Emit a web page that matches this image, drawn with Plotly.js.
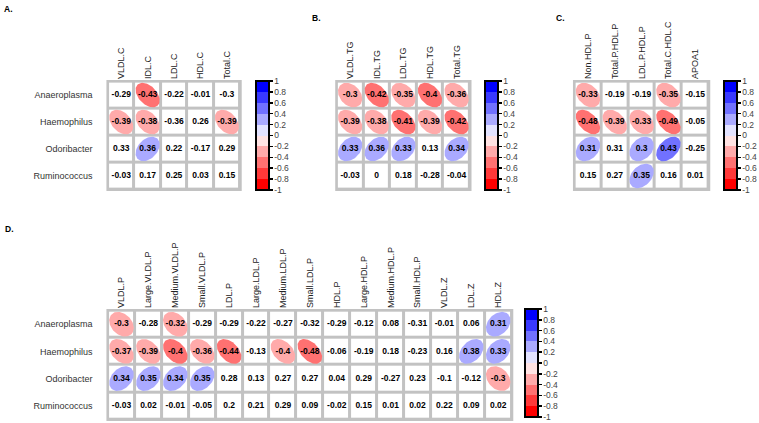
<!DOCTYPE html>
<html>
<head>
<meta charset="utf-8">
<script src="https://cdn.plot.ly/plotly-3.0.1.min.js"></script>
<style>html,body{margin:0;padding:0;background:#fff;}#chart{width:759px;height:423px;}</style>
</head>
<body>
<div id="chart"></div>
<script>
// ---------- data ----------
const rowNames = ['Anaeroplasma', 'Haemophilus', 'Odoribacter', 'Ruminococcus'];

const colsA = ['VLDL.C', 'IDL.C', 'LDL.C', 'HDL.C', 'Total.C'];
const valsA = [
  [-0.29, -0.43, -0.22, -0.01, -0.3],
  [-0.39, -0.38, -0.36, 0.26, -0.39],
  [0.33, 0.36, 0.22, -0.17, 0.29],
  [-0.03, 0.17, 0.25, 0.03, 0.15]
];
const sigA = [
  [0, 1, 0, 0, 0],
  [1, 1, 0, 0, 1],
  [0, 1, 0, 0, 0],
  [0, 0, 0, 0, 0]
];

const colsB = ['VLDL.TG', 'IDL.TG', 'LDL.TG', 'HDL.TG', 'Total.TG'];
const valsB = [
  [-0.3, -0.42, -0.35, -0.402, -0.36],
  [-0.39, -0.38, -0.41, -0.39, -0.42],
  [0.33, 0.36, 0.33, 0.13, 0.34],
  [-0.03, 0, 0.18, -0.28, -0.04]
];
const sigB = [
  [1, 1, 1, 1, 1],
  [1, 1, 1, 1, 1],
  [1, 1, 1, 0, 1],
  [0, 0, 0, 0, 0]
];

const colsC = ['Non.HDL.P', 'Total.P.HDL.P', 'LDL.P.HDL.P', 'Total.C.HDL.C', 'APOA1'];
const valsC = [
  [-0.33, -0.19, -0.19, -0.35, -0.15],
  [-0.48, -0.39, -0.33, -0.49, -0.05],
  [0.31, 0.31, 0.3, 0.43, -0.25],
  [0.15, 0.27, 0.35, 0.16, 0.01]
];
const sigC = [
  [1, 0, 0, 1, 0],
  [1, 1, 1, 1, 0],
  [1, 0, 1, 1, 0],
  [0, 0, 1, 0, 0]
];

const colsD = ['VLDL.P', 'Large.VLDL.P', 'Medium.VLDL.P', 'Small.VLDL.P', 'LDL.P', 'Large.LDL.P',
  'Medium.LDL.P', 'Small.LDL.P', 'HDL.P', 'Large.HDL.P', 'Medium.HDL.P', 'Small.HDL.P',
  'VLDL.Z', 'LDL.Z', 'HDL.Z'];
const valsD = [
  [-0.3, -0.28, -0.32, -0.29, -0.29, -0.22, -0.27, -0.32, -0.29, -0.12, 0.08, -0.31, -0.01, 0.06, 0.31],
  [-0.37, -0.39, -0.402, -0.36, -0.44, -0.13, -0.398, -0.48, -0.06, -0.19, 0.18, -0.23, 0.16, 0.38, 0.33],
  [0.34, 0.35, 0.34, 0.35, 0.28, 0.13, 0.27, 0.27, 0.04, 0.29, -0.27, 0.23, -0.1, -0.12, -0.3],
  [-0.03, 0.02, -0.01, -0.05, 0.2, 0.21, 0.29, 0.09, -0.02, 0.15, 0.01, 0.02, 0.22, 0.09, 0.02]
];
const sigD = [
  [1, 0, 1, 0, 0, 0, 0, 0, 0, 0, 0, 0, 0, 0, 1],
  [1, 1, 1, 1, 1, 0, 1, 1, 0, 0, 0, 0, 0, 1, 1],
  [1, 1, 1, 1, 0, 0, 0, 0, 0, 0, 0, 0, 0, 0, 1],
  [0, 0, 0, 0, 0, 0, 0, 0, 0, 0, 0, 0, 0, 0, 0]
];

const panelLetters = ['A.', 'B.', 'C.', 'D.'];
const cbTickVals = [1, 0.8, 0.6, 0.4, 0.2, 0, -0.2, -0.4, -0.6, -0.8, -1];
const cbTickText = ['1', '0.8', '0.6', '0.4', '0.2', '0', '-0.2', '-0.4', '-0.6', '-0.8', '-1'];

// ---------- style ----------
const W = 759, H = 423;
const FONT = 'Liberation Sans, Arial, sans-serif';
const palette = ['#FF0000', '#FF3939', '#FF7171', '#FFAAAA', '#FFE3E3',
                 '#E3E3FF', '#AAAAFF', '#7171FF', '#3939FF', '#0000FF'];
const colorscale = [];
palette.forEach((c, i) => { colorscale.push([i / 10, c]); colorscale.push([(i + 1) / 10, c]); });

const panels = [
  {cols: colsA, vals: valsA, sig: sigA, x0: 107, x1: 243, y0: 80, y1: 191, showY: true, cbx: 257, cb: [81, 190], lab: [2, 2]},
  {cols: colsB, vals: valsB, sig: sigB, x0: 337, x1: 474, y0: 80, y1: 191, showY: false, cbx: 488, cb: [81, 190], lab: [312, 11]},
  {cols: colsC, vals: valsC, sig: sigC, x0: 576, x1: 714, y0: 80, y1: 191, showY: false, cbx: 728, cb: [81, 190], lab: [557, 11]},
  {cols: colsD, vals: valsD, sig: sigD, x0: 107, x1: 516, y0: 309, y1: 421, showY: true, cbx: 528, cb: [309, 417], lab: [3, 222]}
];

function binColor(r) {
  let i = Math.floor((r + 1) / 0.2 + 1e-9);
  if (i < 0) i = 0; if (i > 9) i = 9;
  return palette[i];
}
function fmt(v) { return String(Math.round(v * 100) / 100); }

const traces = [];
const layout = {
  width: W, height: H,
  margin: {l: 0, r: 0, t: 0, b: 0, pad: 0},
  paper_bgcolor: '#ffffff',
  plot_bgcolor: '#C2C2C2',
  showlegend: false,
  font: {family: FONT, color: '#222'},
  annotations: []
};

const HALF = 0.455;
panels.forEach((p, k) => {
  const sfx = k === 0 ? '' : String(k + 1);
  const xa = 'x' + sfx, ya = 'y' + sfx;
  const n = p.cols.length, m = rowNames.length;
  layout['xaxis' + sfx] = {
    domain: [p.x0 / W, p.x1 / W], range: [-0.56, n - 0.44], anchor: ya, side: 'top',
    tickmode: 'array', tickvals: p.cols.map((_, i) => i), ticktext: p.cols,
    tickangle: -90, tickfont: {size: 9, color: '#222', family: FONT},
    showgrid: false, zeroline: false, showline: false, ticks: '', fixedrange: true,
    ticklabelstandoff: 0
  };
  layout['yaxis' + sfx] = {
    domain: [1 - p.y1 / H, 1 - p.y0 / H], range: [m - 0.44, -0.56], anchor: xa,
    tickmode: 'array', tickvals: rowNames.map((_, i) => i), ticktext: rowNames,
    showticklabels: p.showY, tickfont: {size: 9, color: '#333', family: FONT},
    showgrid: false, zeroline: false, showline: false, ticks: '', fixedrange: true,
    ticklabelstandoff: 13
  };
  // white cells
  traces.push({
    type: 'heatmap', xaxis: xa, yaxis: ya,
    z: rowNames.map(() => p.cols.map(() => 0)),
    zmin: 0, zmax: 1, colorscale: [[0, '#ffffff'], [1, '#ffffff']],
    showscale: false, xgap: 3, ygap: 3, hoverinfo: 'skip'
  });
  // ellipses
  p.vals.forEach((row, ri) => {
    row.forEach((r, ci) => {
      if (!p.sig[ri][ci]) return;
      const a = HALF * Math.sqrt(1 + Math.abs(r));
      const b = HALF * Math.sqrt(1 - Math.abs(r));
      const s = r < 0 ? 1 : -1; // y axis reversed: negative -> "\" on screen
      const e1 = [1 / Math.SQRT2, s / Math.SQRT2];
      const e2 = [-s / Math.SQRT2, 1 / Math.SQRT2];
      const xs = [], ys = [];
      for (let t = 0; t <= 72; t++) {
        const th = t / 72 * 2 * Math.PI;
        const u = a * Math.cos(th), v = b * Math.sin(th);
        xs.push(ci + u * e1[0] + v * e2[0]);
        ys.push(ri + u * e1[1] + v * e2[1]);
      }
      traces.push({
        type: 'scatter', mode: 'lines', xaxis: xa, yaxis: ya, x: xs, y: ys,
        fill: 'toself', fillcolor: binColor(r), line: {width: 0, color: binColor(r)},
        hoverinfo: 'skip'
      });
    });
  });
  // numbers
  const tx = [], ty = [], tt = [];
  p.vals.forEach((row, ri) => row.forEach((r, ci) => { tx.push(ci); ty.push(ri); tt.push(fmt(r)); }));
  traces.push({
    type: 'scatter', mode: 'text', xaxis: xa, yaxis: ya, x: tx, y: ty, text: tt,
    textposition: 'middle center', cliponaxis: false,
    textfont: {size: 8.5, color: '#000', family: FONT, weight: 'bold'}, hoverinfo: 'skip'
  });
  // colorbar carrier
  traces.push({
    type: 'scatter', mode: 'markers', xaxis: xa, yaxis: ya, x: [0], y: [0],
    marker: {
      size: 1, opacity: 0, color: [0], cmin: -1, cmax: 1, colorscale: colorscale, showscale: true,
      colorbar: {
        x: p.cbx / W, xanchor: 'left', xref: 'paper', y: 1 - p.cb[0] / H, yanchor: 'top', yref: 'paper',
        len: (p.cb[1] - p.cb[0]) / H, lenmode: 'fraction', thickness: 13, thicknessmode: 'pixels',
        xpad: 0, ypad: 0, outlinewidth: 2, outlinecolor: '#000', borderwidth: 0,
        tickmode: 'array', tickvals: cbTickVals, ticktext: cbTickText,
        ticks: 'outside', ticklen: 3, tickwidth: 1.5, tickcolor: '#000',
        tickfont: {size: 8.5, color: '#444', family: FONT}
      }
    },
    hoverinfo: 'skip'
  });
  layout.annotations.push({
    text: panelLetters[k], xref: 'paper', yref: 'paper', x: p.lab[0] / W, y: 1 - p.lab[1] / H,
    xanchor: 'left', yanchor: 'top', showarrow: false,
    font: {size: 8.5, color: '#000', family: FONT, weight: 'bold'}
  });
});

Plotly.newPlot('chart', traces, layout, {displayModeBar: false, staticPlot: true});
</script>
</body>
</html>
